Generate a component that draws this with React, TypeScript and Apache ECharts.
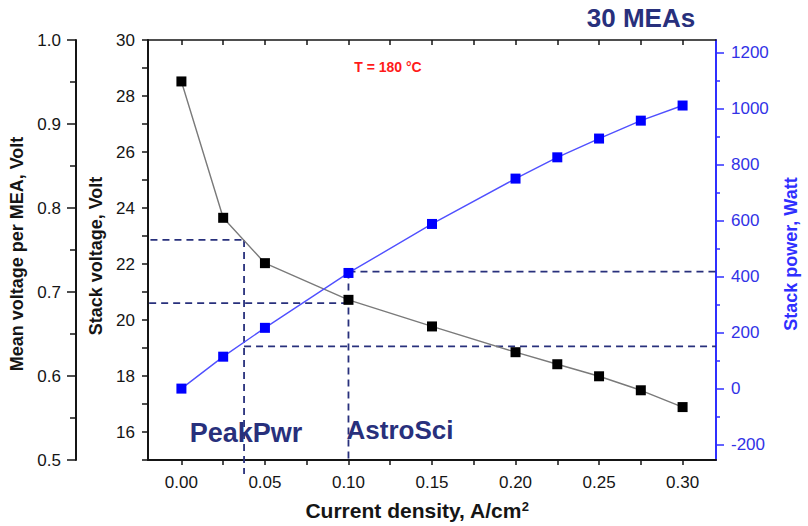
import React, { useEffect, useRef } from "react";
import * as echarts from "echarts";

// ---- data ----
const currentDensity = [0, 0.025, 0.05, 0.1, 0.15, 0.2, 0.225, 0.25, 0.275, 0.3];
const stackVoltage = [28.52, 23.65, 22.03, 20.72, 19.77, 18.85, 18.42, 17.99, 17.49, 16.89];
const stackPower = [0, 114, 217, 413, 588, 750, 826, 893, 957, 1011];

// ---- axis ticks / labels ----
const xLabelValues = [0, 0.05, 0.1, 0.15, 0.2, 0.25, 0.3];
const xTickValues = [0, 0.025, 0.05, 0.075, 0.1, 0.125, 0.15, 0.175, 0.2, 0.225, 0.25, 0.275, 0.3];
const voltageLabelValues = [16, 18, 20, 22, 24, 26, 28, 30];
const powerLabelValues = [-200, 0, 200, 400, 600, 800, 1000, 1200];
const powerMinorTickValues = [-100, 100, 300, 500, 700, 900, 1100];

// ---- operating-point guide lines ----
const peakPwrCurrent = 0.0375;
const astroSciCurrent = 0.1;
const peakPwrVoltage = 22.86;
const astroSciVoltage = 20.6;
const peakPwrPower = 151;
const astroSciPower = 418;
const guideStartPeak = -0.076;
const guideStartAstro = -0.0624;
const guideBottomPeak = 14.5;

const FONT = "'Liberation Sans', Arial, sans-serif";
const DARK = "#151515";
const NAVY = "#28307c";
const BLUE = "#2f2fff";

function guide(data: number[][], yAxisIndex: number) {
  return {
    type: "line",
    xAxisIndex: 0,
    yAxisIndex,
    data,
    symbol: "none",
    clip: false,
    silent: true,
    z: 2,
    lineStyle: { color: NAVY, width: 1.8, type: [7, 5] },
  };
}

export default function App() {
  const ref = useRef<HTMLDivElement>(null);
  useEffect(() => {
    if (!ref.current) return;
    const chart = echarts.init(ref.current, null, { renderer: "svg" });
    const nameStyle = { fontSize: 18, fontWeight: "bold", color: DARK, fontFamily: FONT };
    const option: any = {
      animation: false,
      backgroundColor: "#ffffff",
      textStyle: { fontFamily: FONT },
      grid: { left: 148, right: 86, top: 40, bottom: 64, containLabel: false },
      xAxis: [
        {
          type: "value",
          position: "bottom",
          min: -0.02,
          max: 0.32,
          axisLine: { onZero: false, lineStyle: { color: DARK, width: 2 } },
          axisTick: { show: true, inside: false, length: 5, customValues: xTickValues, lineStyle: { color: DARK, width: 1.5 } },
          axisLabel: { customValues: xLabelValues, formatter: (v: number) => v.toFixed(2), color: DARK, fontSize: 17, margin: 14 },
          splitLine: { show: false },
          name: "Current density, A/cm{sup|2}",
          nameLocation: "middle",
          nameGap: 40,
          nameTextStyle: {
            ...nameStyle,
            fontSize: 21,
            padding: [0, 30, 0, 0],
            rich: { sup: { fontSize: 13, fontWeight: "bold", color: DARK, verticalAlign: "top", fontFamily: FONT } },
          },
        },
        {
          type: "value",
          position: "top",
          min: -0.02,
          max: 0.32,
          axisLine: { onZero: false, lineStyle: { color: DARK, width: 1.5 } },
          axisTick: { show: true, inside: true, length: 5, customValues: xTickValues, lineStyle: { color: DARK, width: 1.5 } },
          axisLabel: { show: false },
          splitLine: { show: false },
        },
      ],
      yAxis: [
        {
          type: "value",
          position: "left",
          min: 15,
          max: 30,
          interval: 1,
          axisLine: { show: true, onZero: false, lineStyle: { color: DARK, width: 2 } },
          axisTick: { show: true, length: 6, lineStyle: { color: DARK, width: 1.5 } },
          axisLabel: { customValues: voltageLabelValues, color: DARK, fontSize: 17, margin: 13 },
          splitLine: { show: false },
          name: "Stack voltage, Volt",
          nameLocation: "middle",
          nameRotate: 90,
          nameGap: 42,
          nameTextStyle: { ...nameStyle, padding: [0, 12, 0, 0] },
        },
        {
          type: "value",
          position: "right",
          min: -255,
          max: 1245,
          axisLine: { show: true, onZero: false, lineStyle: { color: BLUE, width: 2 } },
          axisTick: { show: true, length: 8, customValues: powerLabelValues, lineStyle: { color: BLUE, width: 1.5 } },
          axisLabel: { customValues: powerLabelValues, formatter: (v: number) => String(v), color: "#3232e6", fontSize: 17, margin: 15 },
          splitLine: { show: false },
          name: "Stack power, Watt",
          nameLocation: "middle",
          nameRotate: 90,
          nameGap: 66,
          nameTextStyle: { ...nameStyle, color: BLUE, padding: [0, 8, 0, 0] },
        },
        {
          type: "value",
          position: "left",
          offset: 72,
          min: 0.5,
          max: 1.0,
          interval: 0.1,
          axisLine: { show: true, onZero: false, lineStyle: { color: DARK, width: 2 } },
          axisTick: { show: true, length: 9, lineStyle: { color: DARK, width: 1.5 } },
          minorTick: { show: true, splitNumber: 2, length: 6, lineStyle: { color: DARK, width: 1.5 } },
          axisLabel: { formatter: (v: number) => v.toFixed(1), color: DARK, fontSize: 17, margin: 15 },
          splitLine: { show: false },
          minorSplitLine: { show: false },
          name: "Mean voltage per MEA, Volt",
          nameLocation: "middle",
          nameRotate: 90,
          nameGap: 42,
          nameTextStyle: { ...nameStyle, padding: [0, 8, 0, 0] },
        },
        {
          type: "value",
          position: "right",
          min: -255,
          max: 1245,
          axisLine: { show: false, onZero: false },
          axisTick: { show: true, length: 4, customValues: powerMinorTickValues, lineStyle: { color: BLUE, width: 1.5 } },
          axisLabel: { show: false },
          splitLine: { show: false },
        },
      ],
      series: [
        guide([[guideStartPeak, peakPwrVoltage], [peakPwrCurrent, peakPwrVoltage]], 0),
        guide([[guideStartAstro, astroSciVoltage], [astroSciCurrent, astroSciVoltage]], 0),
        guide([[peakPwrCurrent, peakPwrVoltage], [peakPwrCurrent, guideBottomPeak]], 0),
        guide([[astroSciCurrent, astroSciPower], [astroSciCurrent, -255]], 1),
        guide([[astroSciCurrent, astroSciPower], [0.32, astroSciPower]], 1),
        guide([[peakPwrCurrent, peakPwrPower], [0.32, peakPwrPower]], 1),
        {
          name: "Stack voltage",
          type: "line",
          xAxisIndex: 0,
          yAxisIndex: 0,
          data: currentDensity.map((x, i) => [x, stackVoltage[i]]),
          symbol: "rect",
          symbolSize: 10,
          itemStyle: { color: "#000000" },
          lineStyle: { color: "#7a7a7a", width: 1.4 },
          z: 5,
        },
        {
          name: "Stack power",
          type: "line",
          xAxisIndex: 0,
          yAxisIndex: 1,
          data: currentDensity.map((x, i) => [x, stackPower[i]]),
          symbol: "rect",
          symbolSize: 10,
          itemStyle: { color: "#0000ff" },
          lineStyle: { color: "#5050ff", width: 1.4 },
          z: 5,
        },
      ],
      graphic: [
        {
          type: "text",
          x: 641,
          y: 18,
          style: { text: "30 MEAs", font: `bold 26px ${FONT}`, fill: NAVY, textAlign: "center", textVerticalAlign: "middle", align: "center", verticalAlign: "middle" },
        },
        {
          type: "text",
          x: 388,
          y: 67,
          style: { text: "T = 180 °C", font: `bold 14px ${FONT}`, fill: "#ff1a1a", textAlign: "center", textVerticalAlign: "middle", align: "center", verticalAlign: "middle" },
        },
        {
          type: "text",
          x: 246,
          y: 433,
          z: 10,
          style: { text: "PeakPwr", font: `bold 27px ${FONT}`, fill: NAVY, textAlign: "center", textVerticalAlign: "middle", align: "center", verticalAlign: "middle" },
        },
        {
          type: "text",
          x: 400,
          y: 430,
          z: 10,
          style: { text: "AstroSci", font: `bold 26px ${FONT}`, fill: NAVY, textAlign: "center", textVerticalAlign: "middle", align: "center", verticalAlign: "middle" },
        },
      ],
    };
    chart.setOption(option);
    return () => chart.dispose();
  }, []);
  return <div ref={ref} style={{ position: "absolute", left: 0, top: 0, width: 808, height: 526 }} />;
}
